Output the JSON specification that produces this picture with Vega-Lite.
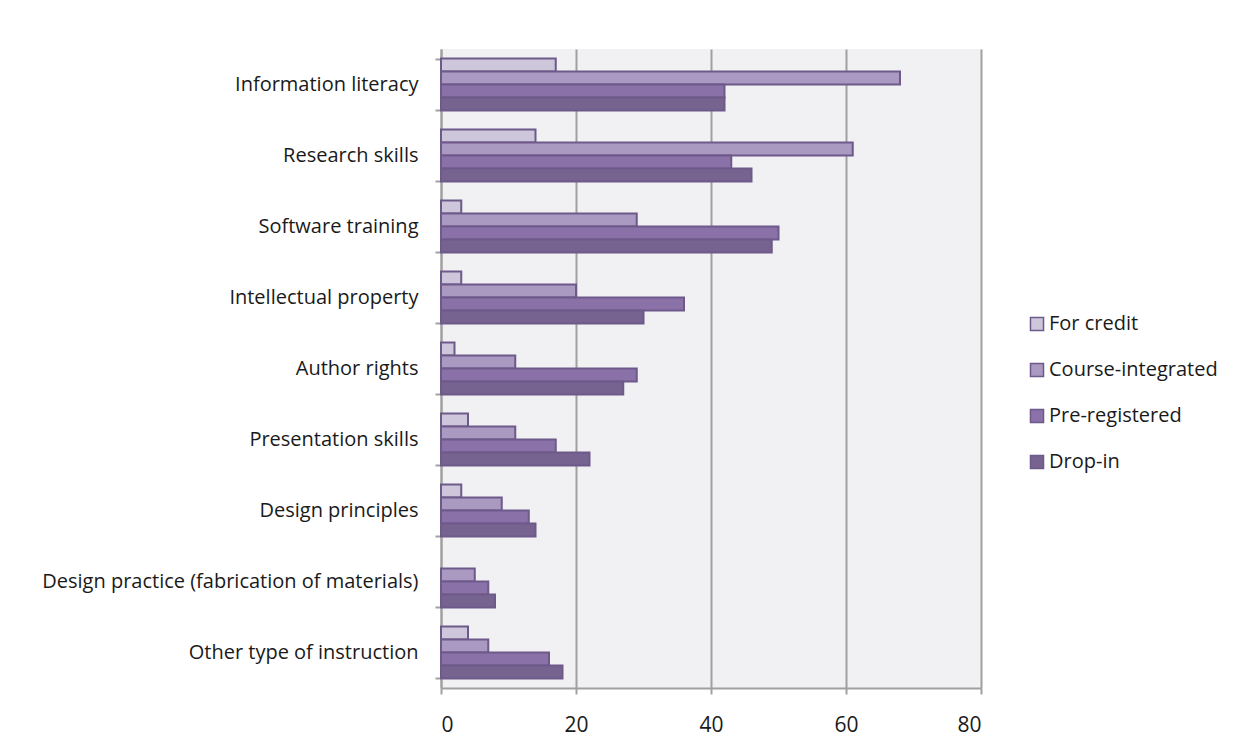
{
  "$schema": "https://vega.github.io/schema/vega-lite/v6.json",
  "width": 540,
  "height": 639,
  "autosize": {"type": "none"},
  "padding": {"left": 441, "top": 49, "right": 267, "bottom": 68},
  "background": "white",
  "config": {
    "view": {"fill": "#F1F1F4", "stroke": null},
    "font": "Open Sans"
  },
  "data": {
    "values": [
      {"skill": "Information literacy", "type": "For credit", "value": 17},
      {"skill": "Information literacy", "type": "Course-integrated", "value": 68},
      {"skill": "Information literacy", "type": "Pre-registered", "value": 42},
      {"skill": "Information literacy", "type": "Drop-in", "value": 42},
      {"skill": "Research skills", "type": "For credit", "value": 14},
      {"skill": "Research skills", "type": "Course-integrated", "value": 61},
      {"skill": "Research skills", "type": "Pre-registered", "value": 43},
      {"skill": "Research skills", "type": "Drop-in", "value": 46},
      {"skill": "Software training", "type": "For credit", "value": 3},
      {"skill": "Software training", "type": "Course-integrated", "value": 29},
      {"skill": "Software training", "type": "Pre-registered", "value": 50},
      {"skill": "Software training", "type": "Drop-in", "value": 49},
      {"skill": "Intellectual property", "type": "For credit", "value": 3},
      {"skill": "Intellectual property", "type": "Course-integrated", "value": 20},
      {"skill": "Intellectual property", "type": "Pre-registered", "value": 36},
      {"skill": "Intellectual property", "type": "Drop-in", "value": 30},
      {"skill": "Author rights", "type": "For credit", "value": 2},
      {"skill": "Author rights", "type": "Course-integrated", "value": 11},
      {"skill": "Author rights", "type": "Pre-registered", "value": 29},
      {"skill": "Author rights", "type": "Drop-in", "value": 27},
      {"skill": "Presentation skills", "type": "For credit", "value": 4},
      {"skill": "Presentation skills", "type": "Course-integrated", "value": 11},
      {"skill": "Presentation skills", "type": "Pre-registered", "value": 17},
      {"skill": "Presentation skills", "type": "Drop-in", "value": 22},
      {"skill": "Design principles", "type": "For credit", "value": 3},
      {"skill": "Design principles", "type": "Course-integrated", "value": 9},
      {"skill": "Design principles", "type": "Pre-registered", "value": 13},
      {"skill": "Design principles", "type": "Drop-in", "value": 14},
      {"skill": "Design practice (fabrication of materials)", "type": "Course-integrated", "value": 5},
      {"skill": "Design practice (fabrication of materials)", "type": "Pre-registered", "value": 7},
      {"skill": "Design practice (fabrication of materials)", "type": "Drop-in", "value": 8},
      {"skill": "Other type of instruction", "type": "For credit", "value": 4},
      {"skill": "Other type of instruction", "type": "Course-integrated", "value": 7},
      {"skill": "Other type of instruction", "type": "Pre-registered", "value": 16},
      {"skill": "Other type of instruction", "type": "Drop-in", "value": 18}
    ]
  },
  "mark": {"type": "bar", "stroke": "#6E5A8A", "strokeWidth": 2},
  "encoding": {
    "y": {
      "field": "skill",
      "type": "nominal",
      "sort": ["Information literacy", "Research skills", "Software training", "Intellectual property", "Author rights", "Presentation skills", "Design principles", "Design practice (fabrication of materials)", "Other type of instruction"],
      "scale": {"paddingInner": 0.27, "paddingOuter": 0.135},
      "axis": {
        "title": null,
        "tickBand": "extent",
        "labelFontSize": 20,
        "labelColor": "#1a1a1a",
        "labelPadding": 17,
        "labelLimit": 600,
        "tickSize": 6,
        "tickColor": "#A0A0A0",
        "tickWidth": 2,
        "domainColor": "#A0A0A0",
        "domainWidth": 2,
        "grid": false
      }
    },
    "x": {
      "field": "value",
      "type": "quantitative",
      "scale": {"domain": [0, 80], "nice": false},
      "axis": {
        "title": null,
        "values": [0, 20, 40, 60, 80],
        "labelFontSize": 21,
        "labelColor": "#1a1a1a",
        "labelPadding": 20,
        "tickSize": 6,
        "tickColor": "#A0A0A0",
        "tickWidth": 2,
        "domainColor": "#A0A0A0",
        "domainWidth": 2,
        "grid": true,
        "gridColor": "#A0A0A0",
        "gridWidth": 2
      }
    },
    "yOffset": {
      "field": "type",
      "type": "nominal",
      "sort": ["For credit", "Course-integrated", "Pre-registered", "Drop-in"],
      "scale": {"paddingInner": 0, "paddingOuter": 0}
    },
    "color": {
      "field": "type",
      "type": "nominal",
      "scale": {
        "domain": ["For credit", "Course-integrated", "Pre-registered", "Drop-in"],
        "range": ["#CEC6DA", "#AA99C1", "#8A72A8", "#77638F"]
      },
      "legend": {
        "title": null,
        "orient": "none",
        "legendX": 586,
        "legendY": 265,
        "symbolType": "square",
        "symbolSize": 170,
        "symbolStrokeColor": "#6E5A8A",
        "symbolStrokeWidth": 1.5,
        "labelFontSize": 20,
        "labelColor": "#1a1a1a",
        "labelOffset": 2,
        "labelLimit": 300,
        "rowPadding": 26
      }
    }
  }
}
